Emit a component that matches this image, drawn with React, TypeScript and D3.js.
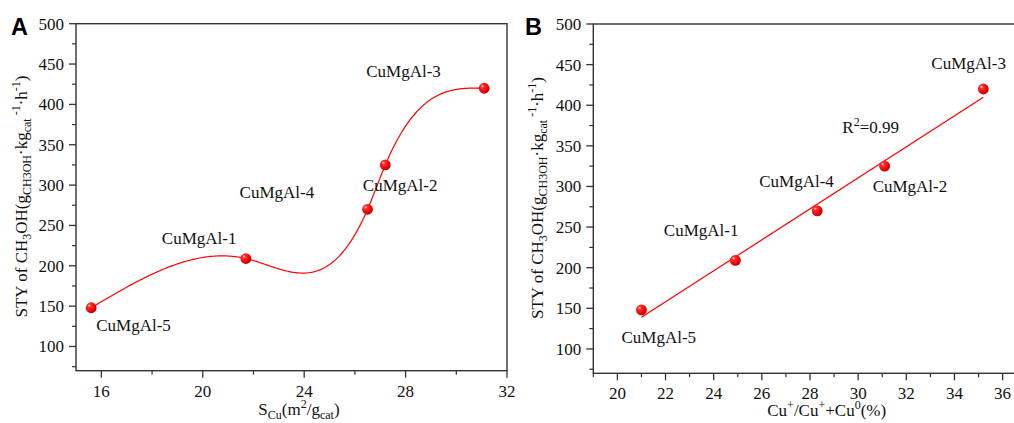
import React from "react";
import * as d3 from "d3";

// ---------- data ----------
const sampleNames = ["CuMgAl-5", "CuMgAl-1", "CuMgAl-4", "CuMgAl-2", "CuMgAl-3"];
const styValues = [148, 209, 270, 325, 420];
const cuSurfaceArea = [15.6, 21.7, 26.5, 27.2, 31.1];
const cuPlusRatio = [21.0, 24.9, 28.3, 31.1, 35.2];

const yTicks = [100, 150, 200, 250, 300, 350, 400, 450, 500];
const yMinorTicks = [75, 125, 175, 225, 275, 325, 375, 425, 475];
const xTicksA = [16, 20, 24, 28, 32];
const xMinorTicksA = [18, 22, 26, 30];
const xTicksB = [20, 22, 24, 26, 28, 30, 32, 34, 36];
const xMinorTicksB = [19, 21, 23, 25, 27, 29, 31, 33, 35];
const r2Text = "=0.99";

// label offsets (px) from each point: [dx, dy] to text left/baseline
const labelOffsetsA = [[5, 23.5], [-84, -15], [-128, -11.5], [-22.5, 26.5], [-118, -11]];
const labelOffsetsB = [[-20, 33], [-71.5, -24], [-58, -23.5], [-12, 26], [-52, -19.5]];

// ---------- layout ----------
const W = 1014, H = 423;
const FONT = "'Liberation Serif', 'Times New Roman', serif";
const AX = "#333333";
const RED = "#ff0000";
const FS = 17;

function naturalSpline(xs: number[], ys: number[]) {
  const n = xs.length;
  const h: number[] = [];
  for (let i = 0; i < n - 1; i++) h.push(xs[i + 1] - xs[i]);
  // tridiagonal for M1..M(n-2)
  const m = n - 2;
  const a: number[] = [], b: number[] = [], c: number[] = [], r: number[] = [];
  for (let i = 1; i <= m; i++) {
    a.push(h[i - 1]);
    b.push(2 * (h[i - 1] + h[i]));
    c.push(h[i]);
    r.push(6 * ((ys[i + 1] - ys[i]) / h[i] - (ys[i] - ys[i - 1]) / h[i - 1]));
  }
  for (let i = 1; i < m; i++) {
    const w = a[i] / b[i - 1];
    b[i] -= w * c[i - 1];
    r[i] -= w * r[i - 1];
  }
  const Mi: number[] = new Array(m).fill(0);
  for (let i = m - 1; i >= 0; i--) {
    Mi[i] = (r[i] - (i < m - 1 ? c[i] * Mi[i + 1] : 0)) / b[i];
  }
  const M = [0, ...Mi, 0];
  return (x: number) => {
    let k = 0;
    while (k < n - 2 && x > xs[k + 1]) k++;
    const hk = h[k];
    const t1 = xs[k + 1] - x, t0 = x - xs[k];
    return (
      (M[k] * t1 * t1 * t1) / (6 * hk) +
      (M[k + 1] * t0 * t0 * t0) / (6 * hk) +
      (ys[k] / hk - (M[k] * hk) / 6) * t1 +
      (ys[k + 1] / hk - (M[k + 1] * hk) / 6) * t0
    );
  };
}

function YTitle({ x, y }: { x: number; y: number }) {
  const s = 12;
  return (
    <text transform={`translate(${x},${y}) rotate(-90)`} textAnchor="middle" fontFamily={FONT} fontSize={FS} fill="#111">
      STY of CH<tspan dy={4} fontSize={s}>3</tspan>
      <tspan dy={-4}>OH(g</tspan>
      <tspan dy={4} fontSize={s}>CH3OH</tspan>
      <tspan dy={-4}>·kg</tspan>
      <tspan dy={4} fontSize={s}>cat</tspan>
      <tspan dy={-11} fontSize={s}> -1</tspan>
      <tspan dy={7}>·h</tspan>
      <tspan dy={-7} fontSize={s}>-1</tspan>
      <tspan dy={7}>)</tspan>
    </text>
  );
}

function Axes({ x, y, majorX, minorX, left, right, top, bottom, clipRight }: any) {
  return (
    <g>
      <rect x={left} y={top} width={right - left} height={bottom - top} fill="none" stroke={AX} strokeWidth={1.4} />
      {yTicks.map((t) => (
        <g key={"y" + t}>
          <line x1={left - 7} x2={left} y1={y(t)} y2={y(t)} stroke={AX} strokeWidth={1.3} />
          <text x={left - 12} y={y(t) + 6} textAnchor="end" fontFamily={FONT} fontSize={FS} fill="#111">{t}</text>
        </g>
      ))}
      {yMinorTicks.map((t) => (
        <line key={"ym" + t} x1={left - 4} x2={left} y1={y(t)} y2={y(t)} stroke={AX} strokeWidth={1.2} />
      ))}
      {majorX.map((t: number) => (
        <g key={"x" + t}>
          <line x1={x(t)} x2={x(t)} y1={bottom} y2={bottom + 7} stroke={AX} strokeWidth={1.3} />
          <text x={x(t)} y={bottom + 26} textAnchor="middle" fontFamily={FONT} fontSize={FS} fill="#111">{t}</text>
        </g>
      ))}
      {minorX.map((t: number) => (
        <line key={"xm" + t} x1={x(t)} x2={x(t)} y1={bottom} y2={bottom + 4} stroke={AX} strokeWidth={1.2} />
      ))}
    </g>
  );
}

export default function App() {
  // Panel A
  const A = { left: 76, right: 507, top: 23.7, bottom: 370.7 };
  const xA = d3.scaleLinear().domain([15, 32]).range([A.left, A.right]);
  const yA = d3.scaleLinear().domain([70, 500]).range([A.bottom, A.top]);
  const spline = naturalSpline(cuSurfaceArea, styValues);
  const x0 = cuSurfaceArea[0], x1 = cuSurfaceArea[cuSurfaceArea.length - 1];
  const curveXs = d3.range(0, 301).map((i) => x0 + ((x1 - x0) * i) / 300);
  const lineA = d3.line<number>().x((v) => xA(v)).y((v) => yA(spline(v)));

  // Panel B
  const B = { left: 593.3, right: 1026.7, top: 24, bottom: 373.3 };
  const xB = d3.scaleLinear().domain([19, 37]).range([B.left, B.right]);
  const yB = d3.scaleLinear().domain([70, 500]).range([B.bottom, B.top]);
  const mx = d3.mean(cuPlusRatio)!, my = d3.mean(styValues)!;
  const sxy = d3.sum(cuPlusRatio.map((v, i) => (v - mx) * (styValues[i] - my)));
  const sxx = d3.sum(cuPlusRatio.map((v) => (v - mx) ** 2));
  const slope = sxy / sxx, intercept = my - slope * mx;
  const fitX = d3.extent(cuPlusRatio) as [number, number];
  const lineB = d3.line<number>().x((v) => xB(v)).y((v) => yB(intercept + slope * v));

  const marker = (cx: number, cy: number, k: string) => (
    <circle key={k} cx={cx} cy={cy} r={5.4} fill="url(#ball)" />
  );

  return (
    <svg width={W} height={H} style={{ position: "absolute", left: 0, top: 0, background: "#fff" }}>
      <defs>
        <radialGradient id="ball" cx="0.38" cy="0.35" r="0.7" fx="0.32" fy="0.3">
          <stop offset="0" stopColor="#ffe6e6" />
          <stop offset="0.22" stopColor="#ff3030" />
          <stop offset="0.7" stopColor="#f00000" />
          <stop offset="1" stopColor="#b00000" />
        </radialGradient>
      </defs>

      {/* Panel A */}
      <Axes x={xA} y={yA} majorX={xTicksA} minorX={xMinorTicksA} {...A} />
      <path d={lineA(curveXs) || ""} fill="none" stroke={RED} strokeWidth={1.2} />
      {cuSurfaceArea.map((v, i) => marker(xA(v), yA(styValues[i]), "a" + i))}
      {sampleNames.map((n, i) => (
        <text key={"la" + i} x={xA(cuSurfaceArea[i]) + labelOffsetsA[i][0]} y={yA(styValues[i]) + labelOffsetsA[i][1]}
          fontFamily={FONT} fontSize={FS} fill="#111">{n}</text>
      ))}
      <text x={11} y={35} fontFamily="'Liberation Sans', Arial, sans-serif" fontWeight="bold" fontSize={23.5} fill="#000">A</text>
      <YTitle x={27} y={196.5} />
      <text x={299} y={414.5} textAnchor="middle" fontFamily={FONT} fontSize={FS} fill="#111">
        S<tspan dy={4} fontSize={12}>Cu</tspan><tspan dy={-4}>(m</tspan><tspan dy={-7} fontSize={12}>2</tspan>
        <tspan dy={7}>/g</tspan><tspan dy={4} fontSize={12}>cat</tspan><tspan dy={-4}>)</tspan>
      </text>

      {/* Panel B */}
      <Axes x={xB} y={yB} majorX={xTicksB} minorX={xMinorTicksB} {...B} />
      <path d={lineB(fitX) || ""} fill="none" stroke={RED} strokeWidth={1.2} />
      {cuPlusRatio.map((v, i) => marker(xB(v), yB(styValues[i]), "b" + i))}
      {sampleNames.map((n, i) => (
        <text key={"lb" + i} x={xB(cuPlusRatio[i]) + labelOffsetsB[i][0]} y={yB(styValues[i]) + labelOffsetsB[i][1]}
          fontFamily={FONT} fontSize={FS} fill="#111">{n}</text>
      ))}
      <text x={842.3} y={133.3} fontFamily={FONT} fontSize={FS} fill="#111">
        R<tspan dy={-7} fontSize={12}>2</tspan><tspan dy={7}>{r2Text}</tspan>
      </text>
      <text x={525} y={35} fontFamily="'Liberation Sans', Arial, sans-serif" fontWeight="bold" fontSize={23.5} fill="#000">B</text>
      <YTitle x={543} y={198} />
      <text x={826.7} y={416} textAnchor="middle" fontFamily={FONT} fontSize={FS} fill="#111">
        Cu<tspan dy={-7} fontSize={12}>+</tspan><tspan dy={7}>/Cu</tspan><tspan dy={-7} fontSize={12}>+</tspan>
        <tspan dy={7}>+Cu</tspan><tspan dy={-7} fontSize={12}>0</tspan><tspan dy={7}>(%)</tspan>
      </text>
    </svg>
  );
}
